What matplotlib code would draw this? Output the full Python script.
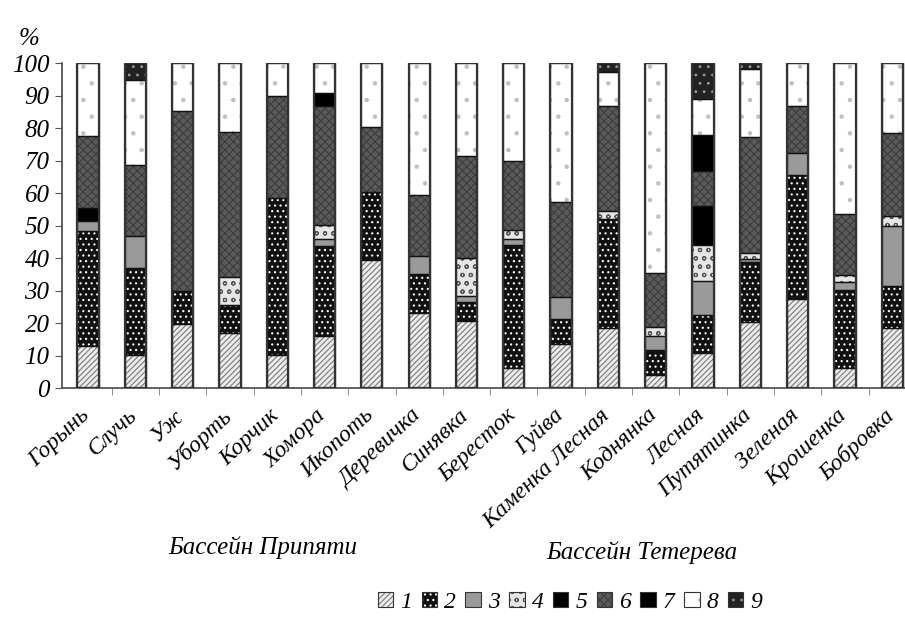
import numpy as np
import matplotlib
matplotlib.use("Agg")
import matplotlib.pyplot as plt
import matplotlib.transforms as mtransforms
from matplotlib.patches import Patch

rivers = ["Горынь", "Случь", "Уж", "Уборть", "Корчик", "Хомора", "Икопоть",
          "Деревичка", "Синявка", "Бересток", "Гуйва", "Каменка Лесная",
          "Коднянка", "Лесная", "Путятинка", "Зеленая", "Крошенка", "Бобровка"]

# share of each group, %
g1 = [13, 10.3, 19.8, 17, 10.3, 15.9, 39.5, 23.1, 20.8, 6.2, 13.6, 18.5, 4.1, 10.8, 20.2, 27.4, 6.2, 18.5]
g2 = [35.5, 26.6, 10.2, 8.6, 48.2, 27.7, 21, 12.1, 5.7, 37.9, 7.6, 33.5, 7.7, 11.8, 18.5, 38.2, 24.1, 12.8]
g3 = [3, 10, 0, 0, 0, 2.4, 0, 5.5, 1.7, 1.7, 6.8, 0, 4.1, 10.5, 1, 6.7, 2.2, 18.6]
g4 = [0, 0, 0, 8.6, 0, 4.3, 0, 0, 11.8, 2.9, 0, 2.4, 2.9, 11, 1.8, 0, 2.4, 3.1]
g5 = [4, 0, 0, 0, 0, 0, 0, 0, 0, 0, 0, 0, 0, 11.8, 0, 0, 0, 0]
g6 = [22, 21.8, 55.4, 44.5, 31.4, 36.4, 19.8, 18.6, 31.5, 21.3, 29.2, 32.5, 16.6, 10.8, 35.9, 14.4, 18.7, 25.5]
g7 = [0, 0, 0, 0, 0, 4.1, 0, 0, 0, 0, 0, 0, 0, 11.2, 0, 0, 0, 0]
g8 = [22.5, 26.2, 14.6, 21.3, 10.1, 9.2, 19.7, 40.7, 28.5, 30, 42.8, 10.5, 64.6, 11, 20.8, 13.3, 46.4, 21.5]
g9 = [0, 5.1, 0, 0, 0, 0, 0, 0, 0, 0, 0, 2.6, 0, 11.1, 1.8, 0, 0, 0]
groups = ["1", "2", "3", "4", "5", "6", "7", "8", "9"]

# (face colour, hatch, hatch colour)
styles = [
    ("#ececec", "//////", "#7a7a7a"),
    ("#111111", "...", "white"),
    ("#9a9a9a", None, "#9a9a9a"),
    ("#e6e6e6", "oo", "#555555"),
    ("black", None, "black"),
    ("#5a5a5a", "xxxx", "#3c3c3c"),
    ("black", None, "black"),
    ("white", ".", "#c0c0c0"),
    ("#222222", "..", "#9a9a9a"),
]

plt.rcParams["font.family"] = "Liberation Serif"
plt.rcParams["hatch.linewidth"] = 0.8

fig = plt.figure(figsize=(9.05, 6.19), dpi=100)
ax = fig.add_axes([0.0685, 0.373, 0.9315, 0.525])

x = np.arange(len(rivers))
bottom = np.zeros(len(rivers))
width = 0.45
handles = []
for vals, (fc, hatch, hc) in zip([g1, g2, g3, g4, g5, g6, g7, g8, g9], styles):
    v = np.array(vals, dtype=float)
    m = v > 0
    ax.bar(x[m], v[m], width, bottom=bottom[m], color=fc, edgecolor=hc,
           hatch=hatch, linewidth=0, zorder=2)
    ax.bar(x[m], v[m], width, bottom=bottom[m], facecolor="none",
           edgecolor="#111111", linewidth=0.9, zorder=3)
    bottom += v
    handles.append((Patch(facecolor=fc, edgecolor=hc, hatch=hatch, linewidth=0),
                    Patch(facecolor="none", edgecolor="#333333", linewidth=0.8)))

# outer column outline
ax.bar(x, bottom, width, facecolor="none", edgecolor="#333333", linewidth=1.6, zorder=4)

ax.set_xlim(-0.55, 17.27)
ax.set_ylim(0, 100)
ax.set_yticks(np.arange(0, 101, 10))
ax.tick_params(axis="y", labelsize=18, length=5, color="#555555", pad=4)
for t in ax.get_yticklabels():
    t.set_fontstyle("italic")

ax.set_xticks(x)
ax.set_xticklabels(rivers, rotation=43, ha="right", rotation_mode="anchor",
                   fontsize=17, fontstyle="italic")
ax.tick_params(axis="x", which="major", length=0, pad=12)
shift = mtransforms.ScaledTranslation(-6 / 72, 0, fig.dpi_scale_trans)
for t in ax.get_xticklabels():
    t.set_transform(t.get_transform() + shift)
ax.set_xticks(np.arange(0.5, len(rivers) - 0.5, 1), minor=True)
ax.tick_params(axis="x", which="minor", length=5, color="#777777")

for s in ["top", "right"]:
    ax.spines[s].set_visible(False)
ax.spines["left"].set_color("#555555")
ax.spines["bottom"].set_color("#555555")
ax.spines["left"].set_linewidth(1.3)
ax.spines["bottom"].set_linewidth(1.3)

fig.text(0.032, 0.937, "%", fontsize=18, fontstyle="italic", ha="center", va="center")
fig.text(0.29, 0.115, "Бассейн Припяти", fontsize=18, fontstyle="italic", ha="center", va="center")
fig.text(0.709, 0.108, "Бассейн Тетерева", fontsize=18, fontstyle="italic", ha="center", va="center")

fig.legend(handles, groups, loc="center", bbox_to_anchor=(0.63, 0.027), ncol=9,
           frameon=False, prop={"style": "italic", "size": 17},
           handlelength=0.65, handleheight=0.65, handletextpad=0.3, columnspacing=0.4)

fig.savefig("out.png", dpi=100)
